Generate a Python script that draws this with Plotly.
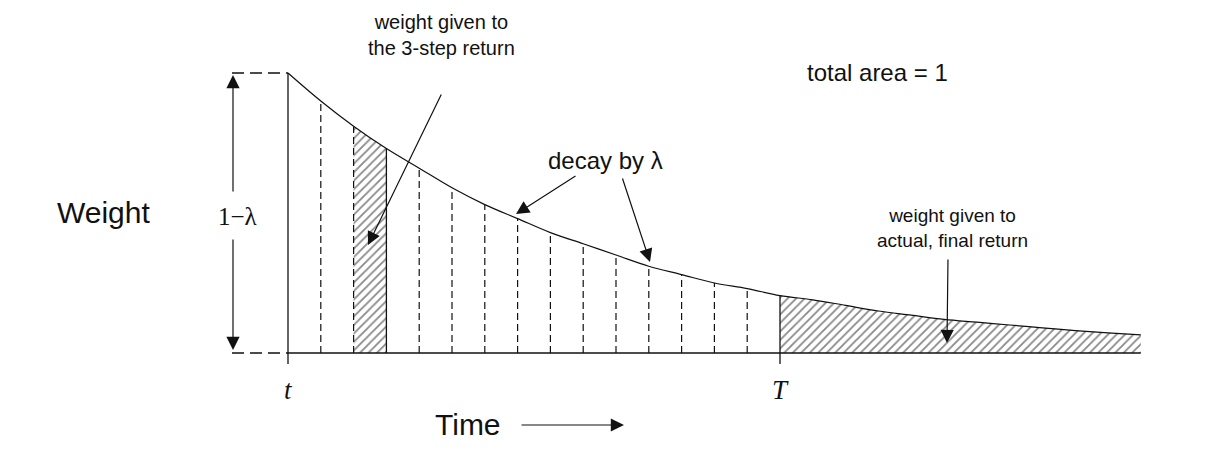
import plotly.graph_objects as go

# ---- data ----
steps = list(range(0, 27))                      # time steps after t (t = 0, T = 15)
weights = [1.00, 0.90, 0.81, 0.73, 0.66, 0.59, 0.53, 0.48, 0.43, 0.39,
           0.35, 0.31, 0.28, 0.25, 0.23, 0.205, 0.19, 0.17, 0.15, 0.135,
           0.12, 0.11, 0.10, 0.09, 0.08, 0.072, 0.065]
n_step_highlight = 3                            # the 3-step return bar (between steps 2 and 3)
T_step = 15                                     # terminal time T
tick_labels = ["t", "T"]

# ---- layout mapping (pixels -> axis units) for decorations ----
W, H = 1212, 464
X0_PX, STEP_PX, BASE_PX, UNIT_PX = 288, 32.8, 353, 280


def dx(px):
    return (px - X0_PX) / STEP_PX


def dy(py):
    return (BASE_PX - py) / UNIT_PX


INK = "#111111"
HATCH = dict(shape="/", size=6, solidity=0.3, fgcolor="#111111", bgcolor="white")
fig = go.Figure()

# hatched 3-step bar
a, b = n_step_highlight - 1, n_step_highlight
fig.add_trace(go.Scatter(
    x=[steps[a], steps[b], steps[b], steps[a], steps[a]],
    y=[weights[a], weights[b], 0, 0, weights[a]],
    mode="lines", fill="toself", line=dict(width=0, color=INK),
    fillcolor="white", fillpattern=HATCH,
    hoverinfo="skip", showlegend=False))

# hatched tail after T
tx = steps[T_step:] + [steps[-1], steps[T_step]]
ty = weights[T_step:] + [0, 0]
fig.add_trace(go.Scatter(
    x=tx, y=ty, mode="lines", fill="toself", line=dict(width=0, color=INK),
    fillcolor="white", fillpattern=HATCH,
    hoverinfo="skip", showlegend=False))

# dashed verticals
vx, vy = [], []
for s in range(1, T_step):
    if s == n_step_highlight:
        continue
    vx += [steps[s], steps[s], None]
    vy += [0, weights[s], None]
fig.add_trace(go.Scatter(x=vx, y=vy, mode="lines",
                         line=dict(color=INK, width=1.2, dash="7px,4px"),
                         hoverinfo="skip", showlegend=False))

# solid verticals: t, right edge of 3-step bar, T
below = dy(364)
sx = [steps[0], steps[0], None, steps[b], steps[b], None, steps[T_step], steps[T_step]]
sy = [below, weights[0], None, 0, weights[b], None, below, weights[T_step]]
fig.add_trace(go.Scatter(x=sx, y=sy, mode="lines", line=dict(color=INK, width=1.3),
                         hoverinfo="skip", showlegend=False))

# baseline
fig.add_trace(go.Scatter(x=[steps[0], steps[-1]], y=[0, 0], mode="lines",
                         line=dict(color=INK, width=1.6), hoverinfo="skip", showlegend=False))

# decay curve
fig.add_trace(go.Scatter(x=steps, y=weights, mode="lines",
                         line=dict(color=INK, width=1.2, shape="spline", smoothing=1.0),
                         hoverinfo="skip", showlegend=False))

# left dashed reference lines (height 1-lambda)
fig.add_trace(go.Scatter(x=[dx(232), steps[0], None, dx(232), steps[0]],
                         y=[weights[0], weights[0], None, 0, 0], mode="lines",
                         line=dict(color=INK, width=1.3, dash="12px,6px"),
                         hoverinfo="skip", showlegend=False))

ann = []


def arrow(tail, tip):
    ann.append(dict(x=dx(tip[0]), y=dy(tip[1]), ax=dx(tail[0]), ay=dy(tail[1]),
                    xref="x", yref="y", axref="x", ayref="y", text="",
                    showarrow=True, arrowhead=2, arrowsize=2.2, arrowwidth=1.2,
                    arrowcolor=INK))


def label(text, px, py, size, family="Liberation Sans, Arial, sans-serif"):
    ann.append(dict(x=dx(px), y=dy(py), xref="x", yref="y", text=text,
                    showarrow=False, font=dict(size=size, color=INK, family=family),
                    xanchor="center", yanchor="middle"))


label("weight given to<br>the 3-step return", 441, 35, 20)
arrow((442, 93), (368, 245))
label("total area = 1", 877, 72, 24)
label("decay by λ", 605, 160, 24)
arrow((577, 175), (516, 214))
arrow((622, 177), (650, 262))
label("Weight", 103, 212, 30)
label("1−λ", 237, 216, 25, "Liberation Serif, Times New Roman, serif")
arrow((233, 193), (233, 75))
arrow((233, 238), (233, 350))
label("weight given to<br>actual, final return", 952, 228, 19)
arrow((948, 258), (947, 343))
label("<i>%s</i>" % tick_labels[0], X0_PX, 390, 27, "Liberation Serif, Times New Roman, serif")
label("<i>%s</i>" % tick_labels[1], X0_PX + steps[T_step] * STEP_PX, 390, 27,
      "Liberation Serif, Times New Roman, serif")
label("Time", 468, 424, 30)
arrow((520, 425), (624, 425))

fig.update_layout(
    width=W, height=H, margin=dict(l=0, r=0, t=0, b=0),
    paper_bgcolor="white", plot_bgcolor="white",
    xaxis=dict(range=[dx(0), dx(W)], visible=False, fixedrange=True),
    yaxis=dict(range=[dy(H), dy(0)], visible=False, fixedrange=True),
    annotations=ann, showlegend=False)

fig.write_html("out.html", config={"displayModeBar": False},
               post_script="document.body.style.margin='0px';document.body.style.overflow='hidden';")
